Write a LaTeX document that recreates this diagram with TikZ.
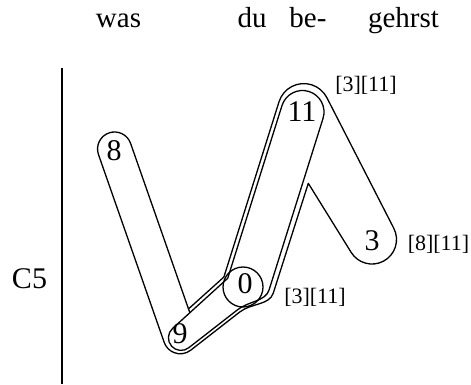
\documentclass[tikz,border=0pt]{standalone}
\usepackage{fontspec}
\setmainfont{Liberation Serif}
\begin{document}
\begin{tikzpicture}[x=1pt,y=1pt,yscale=-1,
  contour/.style={line width=1.3pt,line join=round,line cap=round},
  word/.style={inner sep=0pt,anchor=base,font=\fontsize{29}{29}\selectfont},
  num/.style={inner sep=0pt,font=\fontsize{30}{30}\selectfont},
  tag/.style={inner sep=0pt,anchor=base,font=\fontsize{22}{22}\selectfont}]
\useasboundingbox (0,0) rectangle (471,384);
% words
\node[word] (was) at (118.5,27) {was};
\node[word] (du) at (252,27) {du};
\node[word] (be) at (308,27) {be-};
\node[word] (gehrst) at (403.5,27) {gehrst};
\node[word,font=\fontsize{30}{30}\selectfont] (c5) at (29.5,288) {C5};
% axis line
\coordinate (vt) at (62,68);
\coordinate (vb) at (62,384);
\draw[line width=1.6pt] (vt) -- (vb);
% outer contour: 8-9-0-11-3
\draw[contour] (98.5,154.6) arc[start angle=160.7, end angle=340.7, radius=17]
  -- (188.5,308.9) -- (223.9,277) -- (279.04,101.71)
  arc[start angle=197.5, end angle=332.3, radius=25.95]
  -- (393.7,228.12) arc[start angle=332.3, end angle=508.1, radius=24.5]
  -- (308.3,183.3) -- (273.3,293)
  .. controls (269.4,305.4) and (251.4,302.9) .. (239.6,312.1)
  -- (190.7,350.2) arc[start angle=52.1, end angle=160.7, radius=17] -- cycle;
\draw[contour] (188.5,308.9) -- (189.66,312.2);
% inner contour: 9-0-11
\draw[contour] (227.7,278.3) -- (172.57,328.44) arc[start angle=228, end angle=52.1, radius=12.6]
  -- (237.66,309.67) .. controls (248.6,301.1) and (265.46,301.45) .. (269.06,290)
  -- (323.01,118.45) arc[start angle=17.5, end angle=-162.5, radius=21.5] -- cycle;
% circle around 0
\draw[contour] (243,287) circle[radius=20];
% numbers
\node[num] (n8) at (114,151) {8};
\node[num] (n9) at (180,334) {9};
\node[num] (n0) at (245,284) {0};
\node[num] (n11) at (302,112) {11};
\node[num] (n3) at (372,241) {3};
% tags
\node[tag] (t11) at (366,91) {[3][11]};
\node[tag] (t3) at (438.5,250) {[8][11]};
\node[tag] (t0) at (315,303) {[3][11]};
\end{tikzpicture}
\end{document}
